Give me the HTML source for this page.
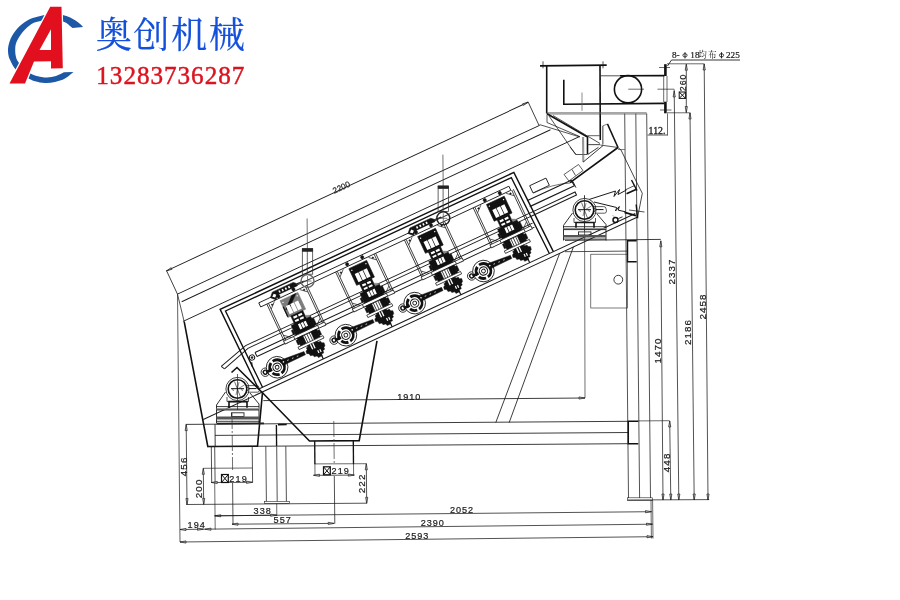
<!DOCTYPE html>
<html><head><meta charset="utf-8"><title>drawing</title>
<style>html,body{margin:0;padding:0;background:#fff;}svg{display:block}</style></head>
<body><svg style="will-change:transform" width="900" height="600" viewBox="0 0 900 600" fill="none" stroke-linecap="butt" font-family="'Liberation Sans', sans-serif">
<rect width="900" height="600" fill="#fff"/>
<g id="logo">
<path d="M83.2 27C82.4 26.2 79.9 23.6 78 22.2C76.1 20.8 74.2 19.6 72 18.5C69.8 17.4 66.8 16.2 64.5 15.6C62.2 14.9 60.1 14.8 58 14.6C55.9 14.4 54 14.3 52 14.3C50 14.3 47.9 14.5 46 14.8C44.1 15.1 43.2 15.2 40.5 15.9C37.8 16.6 33.5 17.3 30 19C26.5 20.7 22.5 23.4 19.5 26.2C16.5 29.1 13.9 32.6 12 36C10.1 39.4 8.9 43.3 8.3 46.5C7.7 49.7 8 52.4 8.4 55C8.8 57.6 10 59.8 11 62C12 64.2 13 66.1 14.5 68C16 69.9 17.7 71.8 20 73.5C22.3 75.2 26 77.2 28.5 78.5C31 79.8 32.2 80.5 35 81.2C37.8 82 41.7 82.9 45 83C48.3 83.1 51.7 82.8 55 82C58.3 81.2 61.9 80.2 65 78.5C68.1 76.8 72.1 73.1 73.5 72L64 72.3C62.7 72.9 58.8 75.1 56 76C53.2 76.9 49.7 77.4 47 77.5C44.3 77.6 42.6 77.4 40 76.8C37.4 76.2 34.2 75.3 31.5 74C28.8 72.7 26.2 71.1 24 69C21.8 66.9 19.3 63.5 18 61.5C16.7 59.5 16.5 59 16 57C15.5 55 15.1 52 15.2 49.5C15.3 47 15.3 44.9 16.5 42C17.7 39.1 20 35.2 22.5 32.2C25 29.2 28.5 25.9 31.5 24C34.5 22.1 38.1 21.7 40.5 21C42.9 20.3 44.1 20.2 46 20C47.9 19.8 50 19.6 52 19.6C54 19.6 55.8 19.5 58 20C60.2 20.5 63.1 21.2 65.5 22.5C67.9 23.8 71.3 27.1 72.5 28Z" fill="#1c58a6"/>
<path d="M9.5 83.5L50.25 6.75L61.5 6.75L62.8 68.3L51 68.6L51 61.3L34 61.4L25 83.5Z" fill="#fff" stroke="#fff" stroke-width="2.6" stroke-linejoin="miter"/>
<path d="M9.5 83.5L50.25 6.75L61.5 6.75L62.8 68.3L51 68.6L51 61.3L34 61.4L25 83.5Z M39.5 50L51 50L51 29.25Z" fill="#e2101e" fill-rule="evenodd"/>
</g>
<text x="95.7" y="47.5" font-size="36.2" letter-spacing="1.5" font-family="'Liberation Serif', 'Noto Serif CJK SC', serif" fill="#1450dc" stroke="#1450dc" stroke-width="0.18">奥创机械</text>
<text x="96.3" y="83.6" font-size="25.2" font-family="'Liberation Serif', serif" fill="#dc1420" letter-spacing="0.95" stroke="#dc1420" stroke-width="0.45">13283736287</text>
<g transform="translate(177.5 294.2) rotate(-25)">
<path d="M0 -25.8L398.8 -25.8" stroke="#1a1a1a" stroke-width="0.9" />
<path d="M0 -26.3L0 0" stroke="#1a1a1a" stroke-width="0.75" />
<path d="M399 -26.3L399 0" stroke="#1a1a1a" stroke-width="0.75" />
<path d="M0 -25.8L5.5 -26.7L5.5 -24.9Z" fill="#b0b0b0" stroke="#1a1a1a" stroke-width="0.65" stroke-linejoin="round"/>
<path d="M398.8 -25.8L393.3 -24.9L393.3 -26.7Z" fill="#b0b0b0" stroke="#1a1a1a" stroke-width="0.65" stroke-linejoin="round"/>
<text x="184.5" y="-24.8" font-size="8.2" textLength="18.3" lengthAdjust="spacingAndGlyphs" fill="#1a1a1a" stroke="#1a1a1a" stroke-width="0.18" font-family="'Liberation Sans', sans-serif">2200</text>
<path d="M0 0L399.5 0" stroke="#1a1a1a" stroke-width="0.9" />
<path d="M0.6 8.6L407.5 8.6" stroke="#1a1a1a" stroke-width="0.9" />
<path d="M-6.4 27L430.6 27" stroke="#1a1a1a" stroke-width="0.85" />
<path d="M33.4 120.3L32.2 31.8L356.3 31.8L358.6 120.3" stroke="#111" stroke-width="1.45" fill="none" />
<path d="M37.7 120.3L36.4 35.5L351.8 35.5L354.2 120.3" stroke="#111" stroke-width="1.35" fill="none" />
<path d="M33 120.3L449 120.3" stroke="#1a1a1a" stroke-width="0.95" />
<path d="M-29.6 124.5L449 124.5" stroke="#1a1a1a" stroke-width="0.95" />
<rect x="365" y="50.5" width="18" height="8" stroke="#1a1a1a" stroke-width="0.85" fill="none"/>
<rect x="70" y="42.2" width="276" height="4.5" stroke="#1a1a1a" stroke-width="0.85" fill="none"/>
<path d="M88 75.4L351.8 75.4" stroke="#1a1a1a" stroke-width="0.85" />
<path d="M88 78.8L351.8 78.8" stroke="#1a1a1a" stroke-width="0.85" />
<path d="M45.6 85.6L351.8 85.6" stroke="#111" stroke-width="0.9" />
<path d="M45.7 90.1L351.8 90.1" stroke="#1a1a1a" stroke-width="0.95" />
<path d="M45.6 85.6L45.7 90.1" stroke="#1a1a1a" stroke-width="0.95" />
<path d="M356.3 63L405 63L405.5 69.5L356.3 69.5" stroke="#1a1a1a" stroke-width="1.15" fill="none" />
<path d="M351.8 75.4L403.5 75.4L403.5 78.8L351.8 78.8" stroke="#1a1a1a" stroke-width="1.05" fill="none" />
<path d="M88 75.4L40 75.4L9.1 84" stroke="#1a1a1a" stroke-width="0.95" fill="none" />
<path d="M88 78.8L41 78.8L11 87.6" stroke="#1a1a1a" stroke-width="0.95" fill="none" />
<path d="M9.1 84L11 87.6" stroke="#1a1a1a" stroke-width="0.95" />
<circle cx="40.8" cy="88.9" r="2.6" stroke="#111" stroke-width="1.0" fill="none"/>
<circle cx="40.8" cy="88.9" r="0.9" stroke="#111" stroke-width="0.65" fill="#111"/>
<path d="M38.5 93L37 97" stroke="#111" stroke-width="1.2" />
<circle cx="46.6" cy="107.8" r="4.2" stroke="#1a1a1a" stroke-width="0.8" fill="none"/>
<circle cx="46.6" cy="107.8" r="2" stroke="#111" stroke-width="1.4" fill="none"/>
<circle cx="59.4" cy="108.3" r="10.8" stroke="#111" stroke-width="0.8" fill="#fff"/>
<circle cx="59.4" cy="108.3" r="7.4" stroke="#111" stroke-width="2.8" stroke-dasharray="10 2.2 7.5 2 9 2.5" fill="none"/>
<circle cx="59.4" cy="108.3" r="4.2" stroke="#111" stroke-width="1.0" fill="none"/>
<circle cx="59.4" cy="108.3" r="1.9" stroke="#111" stroke-width="0.9" fill="none"/>
<path d="M47.4 108.3L53.9 108.3" stroke="#111" stroke-width="2.8" />
<path d="M63.9 103.1L69.4 103.7L90.4 105.4L90.4 108.9L69.4 109.2L65.9 109.9Z" stroke="#111" stroke-width="0.4" fill="#111" />
<path d="M71.4 106.4L86.4 107.1" stroke="#fff" stroke-width="0.7" stroke-dasharray="1.6 3.6"/>
<circle cx="67.4" cy="106.1" r="0.8" stroke="none" stroke-width="0" fill="#fff"/>
<circle cx="122.5" cy="107.8" r="4.2" stroke="#1a1a1a" stroke-width="0.8" fill="none"/>
<circle cx="122.5" cy="107.8" r="2" stroke="#111" stroke-width="1.4" fill="none"/>
<circle cx="135.3" cy="108.3" r="10.8" stroke="#111" stroke-width="0.8" fill="#fff"/>
<circle cx="135.3" cy="108.3" r="7.4" stroke="#111" stroke-width="2.8" stroke-dasharray="10 2.2 7.5 2 9 2.5" fill="none"/>
<circle cx="135.3" cy="108.3" r="4.2" stroke="#111" stroke-width="1.0" fill="none"/>
<circle cx="135.3" cy="108.3" r="1.9" stroke="#111" stroke-width="0.9" fill="none"/>
<path d="M123.3 108.3L129.8 108.3" stroke="#111" stroke-width="2.8" />
<path d="M139.8 103.1L145.3 103.7L166.3 105.4L166.3 108.9L145.3 109.2L141.8 109.9Z" stroke="#111" stroke-width="0.4" fill="#111" />
<path d="M147.3 106.4L162.3 107.1" stroke="#fff" stroke-width="0.7" stroke-dasharray="1.6 3.6"/>
<circle cx="143.3" cy="106.1" r="0.8" stroke="none" stroke-width="0" fill="#fff"/>
<circle cx="198.4" cy="107.8" r="4.2" stroke="#1a1a1a" stroke-width="0.8" fill="none"/>
<circle cx="198.4" cy="107.8" r="2" stroke="#111" stroke-width="1.4" fill="none"/>
<circle cx="211.2" cy="108.3" r="10.8" stroke="#111" stroke-width="0.8" fill="#fff"/>
<circle cx="211.2" cy="108.3" r="7.4" stroke="#111" stroke-width="2.8" stroke-dasharray="10 2.2 7.5 2 9 2.5" fill="none"/>
<circle cx="211.2" cy="108.3" r="4.2" stroke="#111" stroke-width="1.0" fill="none"/>
<circle cx="211.2" cy="108.3" r="1.9" stroke="#111" stroke-width="0.9" fill="none"/>
<path d="M199.2 108.3L205.7 108.3" stroke="#111" stroke-width="2.8" />
<path d="M215.7 103.1L221.2 103.7L242.2 105.4L242.2 108.9L221.2 109.2L217.7 109.9Z" stroke="#111" stroke-width="0.4" fill="#111" />
<path d="M223.2 106.4L238.2 107.1" stroke="#fff" stroke-width="0.7" stroke-dasharray="1.6 3.6"/>
<circle cx="219.2" cy="106.1" r="0.8" stroke="none" stroke-width="0" fill="#fff"/>
<circle cx="274.3" cy="107.8" r="4.2" stroke="#1a1a1a" stroke-width="0.8" fill="none"/>
<circle cx="274.3" cy="107.8" r="2" stroke="#111" stroke-width="1.4" fill="none"/>
<circle cx="287.1" cy="108.3" r="10.8" stroke="#111" stroke-width="0.8" fill="#fff"/>
<circle cx="287.1" cy="108.3" r="7.4" stroke="#111" stroke-width="2.8" stroke-dasharray="10 2.2 7.5 2 9 2.5" fill="none"/>
<circle cx="287.1" cy="108.3" r="4.2" stroke="#111" stroke-width="1.0" fill="none"/>
<circle cx="287.1" cy="108.3" r="1.9" stroke="#111" stroke-width="0.9" fill="none"/>
<path d="M275.1 108.3L281.6 108.3" stroke="#111" stroke-width="2.8" />
<path d="M291.6 103.1L297.1 103.7L318.1 105.4L318.1 108.9L297.1 109.2L293.6 109.9Z" stroke="#111" stroke-width="0.4" fill="#111" />
<path d="M299.1 106.4L314.1 107.1" stroke="#fff" stroke-width="0.7" stroke-dasharray="1.6 3.6"/>
<circle cx="295.1" cy="106.1" r="0.8" stroke="none" stroke-width="0" fill="#fff"/>
<path d="M76.8 46.8L76.8 91" stroke="#1a1a1a" stroke-width="0.75" />
<path d="M78.6 46.8L78.6 91" stroke="#1a1a1a" stroke-width="0.75" />
<path d="M119.2 46.8L119.2 91" stroke="#1a1a1a" stroke-width="0.75" />
<path d="M121 46.8L121 91" stroke="#1a1a1a" stroke-width="0.75" />
<rect x="76.3" y="87.4" width="45.2" height="3.2" stroke="#1a1a1a" stroke-width="0.75" fill="#fff"/>
<path d="M78.8 53L84.8 47.5" stroke="#1a1a1a" stroke-width="0.65" fill="none" />
<path d="M119 53L112.8 47.5" stroke="#1a1a1a" stroke-width="0.65" fill="none" />
<path d="M78.8 82L84.8 87.4" stroke="#1a1a1a" stroke-width="0.65" fill="none" />
<path d="M119 82L112.8 87.4" stroke="#1a1a1a" stroke-width="0.65" fill="none" />
<circle cx="81.3" cy="49.5" r="0.7" stroke="#111" stroke-width="0.65" fill="#111"/>
<circle cx="116.6" cy="49.5" r="0.7" stroke="#111" stroke-width="0.65" fill="#111"/>
<circle cx="90.5" cy="44.6" r="1.7" stroke="#111" stroke-width="0.4" fill="#111"/>
<circle cx="107.1" cy="44.6" r="1.7" stroke="#111" stroke-width="0.4" fill="#111"/>
<rect x="90.2" y="49.3" width="19.6" height="18.4" stroke="#7c7c7c" stroke-width="0.6" fill="#7c7c7c"/>
<path d="M102.8 49.3L107.8 49.3L95.8 60L91.3 60Z" stroke="#111" stroke-width="0.3" fill="#111" />
<path d="M90.5 56L90.5 67" stroke="#111" stroke-width="1.2" />
<rect x="93.2" y="56.6" width="4" height="9" stroke="none" stroke-width="0" fill="#fff"/>
<rect x="97.9" y="56.6" width="4" height="9" stroke="none" stroke-width="0" fill="#fff"/>
<rect x="102.6" y="56.6" width="4" height="9" stroke="none" stroke-width="0" fill="#fff"/>
<circle cx="92.2" cy="52" r="0.7" stroke="none" stroke-width="0" fill="#fff"/>
<circle cx="107.8" cy="52" r="0.7" stroke="none" stroke-width="0" fill="#fff"/>
<rect x="93.4" y="67.7" width="13.2" height="9" stroke="#111" stroke-width="0.5" fill="#111"/>
<rect x="95.2" y="69.2" width="4" height="2.2" stroke="none" stroke-width="0" fill="#fff"/>
<rect x="100.6" y="69.2" width="4" height="2.2" stroke="none" stroke-width="0" fill="#fff"/>
<rect x="95.2" y="73.2" width="4" height="2" stroke="none" stroke-width="0" fill="#fff"/>
<rect x="100.6" y="73.2" width="4" height="2" stroke="none" stroke-width="0" fill="#fff"/>
<path d="M106.8 73L110.8 75L112.3 84L107.8 84Z" stroke="#777" stroke-width="0.3" fill="#888" />
<rect x="89.8" y="76.5" width="21.5" height="11" stroke="#111" stroke-width="0.5" fill="#111"/>
<rect x="96.4" y="78.2" width="2.4" height="5.6" stroke="none" stroke-width="0" fill="#fff"/>
<rect x="99.5" y="78.2" width="2.4" height="5.6" stroke="none" stroke-width="0" fill="#fff"/>
<rect x="102.6" y="78.2" width="2.4" height="5.6" stroke="none" stroke-width="0" fill="#fff"/>
<rect x="87.8" y="81" width="2" height="4.5" stroke="#111" stroke-width="0.4" fill="#111"/>
<rect x="111.1" y="79" width="2.2" height="7" stroke="#111" stroke-width="0.4" fill="#111"/>
<rect x="87.3" y="87.4" width="26.5" height="3" stroke="#111" stroke-width="0.7" fill="#fff"/>
<rect x="89.8" y="90.4" width="6.2" height="8.6" stroke="#111" stroke-width="0.5" fill="#111"/>
<rect x="104.8" y="90.4" width="6.5" height="8.6" stroke="#111" stroke-width="0.5" fill="#111"/>
<path d="M97.8 90.4L97.8 99" stroke="#111" stroke-width="0.7" />
<path d="M100.4 90.4L100.4 99" stroke="#111" stroke-width="0.7" />
<path d="M103 90.4L103 99" stroke="#111" stroke-width="0.7" />
<rect x="87.8" y="92" width="2" height="5" stroke="#111" stroke-width="0.4" fill="#111"/>
<rect x="111.1" y="92" width="2.5" height="5.5" stroke="#111" stroke-width="0.4" fill="#111"/>
<rect x="86.8" y="99" width="27.5" height="2.6" stroke="#111" stroke-width="0.7" fill="#fff"/>
<path d="M95.8 101.6L106.8 101.6L107.7 103L109.8 103L110.2 105L112.3 106L111.9 109L110.2 110L110.2 112L108.1 112.5L107.7 115L105.5 115L105.1 117L100.9 117L100.5 115L97.5 114.5L97 112.5L94.5 112L94.1 109.5L92 108.5L92.4 106L94.1 105L94.1 103L95.8 102.8Z" stroke="#111" stroke-width="0.4" fill="#111" />
<rect x="98.6" y="101.6" width="1.3" height="5.5" stroke="none" stroke-width="0" fill="#fff"/>
<rect x="101.2" y="101.6" width="1.3" height="5.5" stroke="none" stroke-width="0" fill="#fff"/>
<rect x="102.8" y="110" width="1.2" height="3" stroke="none" stroke-width="0" fill="#fff"/>
<rect x="105.2" y="110" width="1.2" height="3" stroke="none" stroke-width="0" fill="#fff"/>
<path d="M104.8 115.5L104.8 120.3" stroke="#111" stroke-width="1.2" />
<path d="M82.8 42.4L86.8 38.2L109.8 38.2L112.3 40.5L112.3 43L90.8 43L86.8 46.6Z" fill="#151515" stroke="#111" stroke-width="0.5"/>
<path d="M84.8 42.3L87.4 40.2L89.3 42.3L87.2 44.2Z" fill="#fff" stroke="none"/>
<rect x="92.8" y="39.6" width="1.6" height="2.2" stroke="none" stroke-width="0" fill="#fff"/>
<rect x="96.3" y="39.6" width="1.6" height="2.2" stroke="none" stroke-width="0" fill="#fff"/>
<rect x="99.8" y="39.6" width="1.6" height="2.2" stroke="none" stroke-width="0" fill="#fff"/>
<rect x="103.3" y="39.6" width="1.6" height="2.2" stroke="none" stroke-width="0" fill="#fff"/>
<path d="M112.3 41L119.8 41.6" stroke="#222" stroke-width="1.2" />
<path d="M152.7 46.8L152.7 91" stroke="#1a1a1a" stroke-width="0.75" />
<path d="M154.5 46.8L154.5 91" stroke="#1a1a1a" stroke-width="0.75" />
<path d="M195.1 46.8L195.1 91" stroke="#1a1a1a" stroke-width="0.75" />
<path d="M196.9 46.8L196.9 91" stroke="#1a1a1a" stroke-width="0.75" />
<rect x="152.2" y="87.4" width="45.2" height="3.2" stroke="#1a1a1a" stroke-width="0.75" fill="#fff"/>
<path d="M154.7 53L160.7 47.5" stroke="#1a1a1a" stroke-width="0.65" fill="none" />
<path d="M194.9 53L188.7 47.5" stroke="#1a1a1a" stroke-width="0.65" fill="none" />
<path d="M154.7 82L160.7 87.4" stroke="#1a1a1a" stroke-width="0.65" fill="none" />
<path d="M194.9 82L188.7 87.4" stroke="#1a1a1a" stroke-width="0.65" fill="none" />
<circle cx="157.2" cy="49.5" r="0.7" stroke="#111" stroke-width="0.65" fill="#111"/>
<circle cx="192.5" cy="49.5" r="0.7" stroke="#111" stroke-width="0.65" fill="#111"/>
<circle cx="166.4" cy="44.6" r="1.7" stroke="#111" stroke-width="0.4" fill="#111"/>
<circle cx="183" cy="44.6" r="1.7" stroke="#111" stroke-width="0.4" fill="#111"/>
<rect x="166.1" y="49.3" width="19.6" height="18.4" stroke="#111" stroke-width="0.6" fill="#111"/>
<rect x="169.1" y="56.6" width="4" height="9" stroke="none" stroke-width="0" fill="#fff"/>
<rect x="173.8" y="56.6" width="4" height="9" stroke="none" stroke-width="0" fill="#fff"/>
<rect x="178.5" y="56.6" width="4" height="9" stroke="none" stroke-width="0" fill="#fff"/>
<circle cx="168.1" cy="52" r="0.7" stroke="none" stroke-width="0" fill="#fff"/>
<circle cx="183.7" cy="52" r="0.7" stroke="none" stroke-width="0" fill="#fff"/>
<rect x="169.3" y="67.7" width="13.2" height="9" stroke="#111" stroke-width="0.5" fill="#111"/>
<rect x="171.1" y="69.2" width="4" height="2.2" stroke="none" stroke-width="0" fill="#fff"/>
<rect x="176.5" y="69.2" width="4" height="2.2" stroke="none" stroke-width="0" fill="#fff"/>
<rect x="171.1" y="73.2" width="4" height="2" stroke="none" stroke-width="0" fill="#fff"/>
<rect x="176.5" y="73.2" width="4" height="2" stroke="none" stroke-width="0" fill="#fff"/>
<path d="M182.7 73L186.7 75L188.2 84L183.7 84Z" stroke="#777" stroke-width="0.3" fill="#888" />
<rect x="165.7" y="76.5" width="21.5" height="11" stroke="#111" stroke-width="0.5" fill="#111"/>
<rect x="172.3" y="78.2" width="2.4" height="5.6" stroke="none" stroke-width="0" fill="#fff"/>
<rect x="175.4" y="78.2" width="2.4" height="5.6" stroke="none" stroke-width="0" fill="#fff"/>
<rect x="178.5" y="78.2" width="2.4" height="5.6" stroke="none" stroke-width="0" fill="#fff"/>
<rect x="163.7" y="81" width="2" height="4.5" stroke="#111" stroke-width="0.4" fill="#111"/>
<rect x="187" y="79" width="2.2" height="7" stroke="#111" stroke-width="0.4" fill="#111"/>
<rect x="163.2" y="87.4" width="26.5" height="3" stroke="#111" stroke-width="0.7" fill="#fff"/>
<rect x="165.7" y="90.4" width="6.2" height="8.6" stroke="#111" stroke-width="0.5" fill="#111"/>
<rect x="180.7" y="90.4" width="6.5" height="8.6" stroke="#111" stroke-width="0.5" fill="#111"/>
<path d="M173.7 90.4L173.7 99" stroke="#111" stroke-width="0.7" />
<path d="M176.3 90.4L176.3 99" stroke="#111" stroke-width="0.7" />
<path d="M178.9 90.4L178.9 99" stroke="#111" stroke-width="0.7" />
<rect x="163.7" y="92" width="2" height="5" stroke="#111" stroke-width="0.4" fill="#111"/>
<rect x="187" y="92" width="2.5" height="5.5" stroke="#111" stroke-width="0.4" fill="#111"/>
<rect x="162.7" y="99" width="27.5" height="2.6" stroke="#111" stroke-width="0.7" fill="#fff"/>
<path d="M171.7 101.6L182.7 101.6L183.6 103L185.7 103L186.1 105L188.2 106L187.8 109L186.1 110L186.1 112L184 112.5L183.6 115L181.4 115L181 117L176.8 117L176.3 115L173.4 114.5L172.9 112.5L170.4 112L170 109.5L167.8 108.5L168.3 106L170 105L170 103L171.7 102.8Z" stroke="#111" stroke-width="0.4" fill="#111" />
<rect x="174.5" y="101.6" width="1.3" height="5.5" stroke="none" stroke-width="0" fill="#fff"/>
<rect x="177.1" y="101.6" width="1.3" height="5.5" stroke="none" stroke-width="0" fill="#fff"/>
<rect x="178.7" y="110" width="1.2" height="3" stroke="none" stroke-width="0" fill="#fff"/>
<rect x="181.1" y="110" width="1.2" height="3" stroke="none" stroke-width="0" fill="#fff"/>
<path d="M180.7 115.5L180.7 120.3" stroke="#111" stroke-width="1.2" />
<path d="M228.6 46.8L228.6 91" stroke="#1a1a1a" stroke-width="0.75" />
<path d="M230.4 46.8L230.4 91" stroke="#1a1a1a" stroke-width="0.75" />
<path d="M271 46.8L271 91" stroke="#1a1a1a" stroke-width="0.75" />
<path d="M272.8 46.8L272.8 91" stroke="#1a1a1a" stroke-width="0.75" />
<rect x="228.1" y="87.4" width="45.2" height="3.2" stroke="#1a1a1a" stroke-width="0.75" fill="#fff"/>
<path d="M230.6 53L236.6 47.5" stroke="#1a1a1a" stroke-width="0.65" fill="none" />
<path d="M270.8 53L264.6 47.5" stroke="#1a1a1a" stroke-width="0.65" fill="none" />
<path d="M230.6 82L236.6 87.4" stroke="#1a1a1a" stroke-width="0.65" fill="none" />
<path d="M270.8 82L264.6 87.4" stroke="#1a1a1a" stroke-width="0.65" fill="none" />
<circle cx="233.1" cy="49.5" r="0.7" stroke="#111" stroke-width="0.65" fill="#111"/>
<circle cx="268.4" cy="49.5" r="0.7" stroke="#111" stroke-width="0.65" fill="#111"/>
<circle cx="242.3" cy="44.6" r="1.7" stroke="#111" stroke-width="0.4" fill="#111"/>
<circle cx="258.9" cy="44.6" r="1.7" stroke="#111" stroke-width="0.4" fill="#111"/>
<rect x="242" y="49.3" width="19.6" height="18.4" stroke="#111" stroke-width="0.6" fill="#111"/>
<rect x="245" y="56.6" width="4" height="9" stroke="none" stroke-width="0" fill="#fff"/>
<rect x="249.7" y="56.6" width="4" height="9" stroke="none" stroke-width="0" fill="#fff"/>
<rect x="254.4" y="56.6" width="4" height="9" stroke="none" stroke-width="0" fill="#fff"/>
<circle cx="244" cy="52" r="0.7" stroke="none" stroke-width="0" fill="#fff"/>
<circle cx="259.6" cy="52" r="0.7" stroke="none" stroke-width="0" fill="#fff"/>
<rect x="245.2" y="67.7" width="13.2" height="9" stroke="#111" stroke-width="0.5" fill="#111"/>
<rect x="247" y="69.2" width="4" height="2.2" stroke="none" stroke-width="0" fill="#fff"/>
<rect x="252.4" y="69.2" width="4" height="2.2" stroke="none" stroke-width="0" fill="#fff"/>
<rect x="247" y="73.2" width="4" height="2" stroke="none" stroke-width="0" fill="#fff"/>
<rect x="252.4" y="73.2" width="4" height="2" stroke="none" stroke-width="0" fill="#fff"/>
<path d="M258.6 73L262.6 75L264.1 84L259.6 84Z" stroke="#777" stroke-width="0.3" fill="#888" />
<rect x="241.6" y="76.5" width="21.5" height="11" stroke="#111" stroke-width="0.5" fill="#111"/>
<rect x="248.2" y="78.2" width="2.4" height="5.6" stroke="none" stroke-width="0" fill="#fff"/>
<rect x="251.3" y="78.2" width="2.4" height="5.6" stroke="none" stroke-width="0" fill="#fff"/>
<rect x="254.4" y="78.2" width="2.4" height="5.6" stroke="none" stroke-width="0" fill="#fff"/>
<rect x="239.6" y="81" width="2" height="4.5" stroke="#111" stroke-width="0.4" fill="#111"/>
<rect x="262.9" y="79" width="2.2" height="7" stroke="#111" stroke-width="0.4" fill="#111"/>
<rect x="239.1" y="87.4" width="26.5" height="3" stroke="#111" stroke-width="0.7" fill="#fff"/>
<rect x="241.6" y="90.4" width="6.2" height="8.6" stroke="#111" stroke-width="0.5" fill="#111"/>
<rect x="256.6" y="90.4" width="6.5" height="8.6" stroke="#111" stroke-width="0.5" fill="#111"/>
<path d="M249.6 90.4L249.6 99" stroke="#111" stroke-width="0.7" />
<path d="M252.2 90.4L252.2 99" stroke="#111" stroke-width="0.7" />
<path d="M254.8 90.4L254.8 99" stroke="#111" stroke-width="0.7" />
<rect x="239.6" y="92" width="2" height="5" stroke="#111" stroke-width="0.4" fill="#111"/>
<rect x="262.9" y="92" width="2.5" height="5.5" stroke="#111" stroke-width="0.4" fill="#111"/>
<rect x="238.6" y="99" width="27.5" height="2.6" stroke="#111" stroke-width="0.7" fill="#fff"/>
<path d="M247.6 101.6L258.6 101.6L259.5 103L261.6 103L262 105L264.2 106L263.7 109L262 110L262 112L259.9 112.5L259.5 115L257.4 115L256.9 117L252.7 117L252.3 115L249.3 114.5L248.9 112.5L246.3 112L245.9 109.5L243.8 108.5L244.2 106L245.9 105L245.9 103L247.6 102.8Z" stroke="#111" stroke-width="0.4" fill="#111" />
<rect x="250.4" y="101.6" width="1.3" height="5.5" stroke="none" stroke-width="0" fill="#fff"/>
<rect x="253" y="101.6" width="1.3" height="5.5" stroke="none" stroke-width="0" fill="#fff"/>
<rect x="254.6" y="110" width="1.2" height="3" stroke="none" stroke-width="0" fill="#fff"/>
<rect x="257" y="110" width="1.2" height="3" stroke="none" stroke-width="0" fill="#fff"/>
<path d="M256.6 115.5L256.6 120.3" stroke="#111" stroke-width="1.2" />
<path d="M234.6 42.4L238.6 38.2L261.6 38.2L264.1 40.5L264.1 43L242.6 43L238.6 46.6Z" fill="#151515" stroke="#111" stroke-width="0.5"/>
<path d="M236.6 42.3L239.2 40.2L241.1 42.3L239 44.2Z" fill="#fff" stroke="none"/>
<rect x="244.6" y="39.6" width="1.6" height="2.2" stroke="none" stroke-width="0" fill="#fff"/>
<rect x="248.1" y="39.6" width="1.6" height="2.2" stroke="none" stroke-width="0" fill="#fff"/>
<rect x="251.6" y="39.6" width="1.6" height="2.2" stroke="none" stroke-width="0" fill="#fff"/>
<rect x="255.1" y="39.6" width="1.6" height="2.2" stroke="none" stroke-width="0" fill="#fff"/>
<path d="M264.1 41L271.6 41.6" stroke="#222" stroke-width="1.2" />
<path d="M304.5 46.8L304.5 91" stroke="#1a1a1a" stroke-width="0.75" />
<path d="M306.3 46.8L306.3 91" stroke="#1a1a1a" stroke-width="0.75" />
<path d="M346.9 46.8L346.9 91" stroke="#1a1a1a" stroke-width="0.75" />
<path d="M348.7 46.8L348.7 91" stroke="#1a1a1a" stroke-width="0.75" />
<rect x="304" y="87.4" width="45.2" height="3.2" stroke="#1a1a1a" stroke-width="0.75" fill="#fff"/>
<path d="M306.5 53L312.5 47.5" stroke="#1a1a1a" stroke-width="0.65" fill="none" />
<path d="M346.7 53L340.5 47.5" stroke="#1a1a1a" stroke-width="0.65" fill="none" />
<path d="M306.5 82L312.5 87.4" stroke="#1a1a1a" stroke-width="0.65" fill="none" />
<path d="M346.7 82L340.5 87.4" stroke="#1a1a1a" stroke-width="0.65" fill="none" />
<circle cx="309" cy="49.5" r="0.7" stroke="#111" stroke-width="0.65" fill="#111"/>
<circle cx="344.3" cy="49.5" r="0.7" stroke="#111" stroke-width="0.65" fill="#111"/>
<circle cx="318.2" cy="44.6" r="1.7" stroke="#111" stroke-width="0.4" fill="#111"/>
<circle cx="334.8" cy="44.6" r="1.7" stroke="#111" stroke-width="0.4" fill="#111"/>
<rect x="317.9" y="49.3" width="19.6" height="18.4" stroke="#111" stroke-width="0.6" fill="#111"/>
<rect x="320.9" y="56.6" width="4" height="9" stroke="none" stroke-width="0" fill="#fff"/>
<rect x="325.6" y="56.6" width="4" height="9" stroke="none" stroke-width="0" fill="#fff"/>
<rect x="330.3" y="56.6" width="4" height="9" stroke="none" stroke-width="0" fill="#fff"/>
<circle cx="319.9" cy="52" r="0.7" stroke="none" stroke-width="0" fill="#fff"/>
<circle cx="335.5" cy="52" r="0.7" stroke="none" stroke-width="0" fill="#fff"/>
<rect x="321.1" y="67.7" width="13.2" height="9" stroke="#111" stroke-width="0.5" fill="#111"/>
<rect x="322.9" y="69.2" width="4" height="2.2" stroke="none" stroke-width="0" fill="#fff"/>
<rect x="328.3" y="69.2" width="4" height="2.2" stroke="none" stroke-width="0" fill="#fff"/>
<rect x="322.9" y="73.2" width="4" height="2" stroke="none" stroke-width="0" fill="#fff"/>
<rect x="328.3" y="73.2" width="4" height="2" stroke="none" stroke-width="0" fill="#fff"/>
<path d="M334.5 73L338.5 75L340 84L335.5 84Z" stroke="#777" stroke-width="0.3" fill="#888" />
<rect x="317.5" y="76.5" width="21.5" height="11" stroke="#111" stroke-width="0.5" fill="#111"/>
<rect x="324.1" y="78.2" width="2.4" height="5.6" stroke="none" stroke-width="0" fill="#fff"/>
<rect x="327.2" y="78.2" width="2.4" height="5.6" stroke="none" stroke-width="0" fill="#fff"/>
<rect x="330.3" y="78.2" width="2.4" height="5.6" stroke="none" stroke-width="0" fill="#fff"/>
<rect x="315.5" y="81" width="2" height="4.5" stroke="#111" stroke-width="0.4" fill="#111"/>
<rect x="338.8" y="79" width="2.2" height="7" stroke="#111" stroke-width="0.4" fill="#111"/>
<rect x="315" y="87.4" width="26.5" height="3" stroke="#111" stroke-width="0.7" fill="#fff"/>
<rect x="317.5" y="90.4" width="6.2" height="8.6" stroke="#111" stroke-width="0.5" fill="#111"/>
<rect x="332.5" y="90.4" width="6.5" height="8.6" stroke="#111" stroke-width="0.5" fill="#111"/>
<path d="M325.5 90.4L325.5 99" stroke="#111" stroke-width="0.7" />
<path d="M328.1 90.4L328.1 99" stroke="#111" stroke-width="0.7" />
<path d="M330.7 90.4L330.7 99" stroke="#111" stroke-width="0.7" />
<rect x="315.5" y="92" width="2" height="5" stroke="#111" stroke-width="0.4" fill="#111"/>
<rect x="338.8" y="92" width="2.5" height="5.5" stroke="#111" stroke-width="0.4" fill="#111"/>
<rect x="314.5" y="99" width="27.5" height="2.6" stroke="#111" stroke-width="0.7" fill="#fff"/>
<path d="M323.5 101.6L334.5 101.6L335.4 103L337.5 103L337.9 105L340.1 106L339.6 109L337.9 110L337.9 112L335.8 112.5L335.4 115L333.2 115L332.8 117L328.6 117L328.1 115L325.2 114.5L324.8 112.5L322.2 112L321.8 109.5L319.6 108.5L320.1 106L321.8 105L321.8 103L323.5 102.8Z" stroke="#111" stroke-width="0.4" fill="#111" />
<rect x="326.3" y="101.6" width="1.3" height="5.5" stroke="none" stroke-width="0" fill="#fff"/>
<rect x="328.9" y="101.6" width="1.3" height="5.5" stroke="none" stroke-width="0" fill="#fff"/>
<rect x="330.5" y="110" width="1.2" height="3" stroke="none" stroke-width="0" fill="#fff"/>
<rect x="332.9" y="110" width="1.2" height="3" stroke="none" stroke-width="0" fill="#fff"/>
<path d="M332.5 115.5L332.5 120.3" stroke="#111" stroke-width="1.2" />
</g>
<path d="M307.1 218.5L307.4 249" stroke="#444" stroke-width="0.75" />
<rect x="302.3" y="248.7" width="10.4" height="25.5" stroke="#333" stroke-width="0.75" fill="none"/>
<path d="M307.3 251L307.3 274" stroke="#333" stroke-width="0.75" />
<rect x="302.3" y="248.7" width="10.4" height="2.6" stroke="#222" stroke-width="0.65" fill="#222"/>
<circle cx="307.5" cy="281" r="6.5" stroke="#666" stroke-width="1.4" fill="none"/>
<path d="M303.5 281L311.5 281" stroke="#555" stroke-width="0.75" />
<path d="M307.5 276L307.5 286" stroke="#555" stroke-width="0.75" />
<path d="M442.9 154.7L443.2 186.3" stroke="#444" stroke-width="0.75" />
<rect x="438.1" y="186" width="10.4" height="25.5" stroke="#333" stroke-width="0.75" fill="none"/>
<path d="M443.1 188.3L443.1 211.3" stroke="#333" stroke-width="0.75" />
<rect x="438.1" y="186" width="10.4" height="2.6" stroke="#222" stroke-width="0.65" fill="#222"/>
<circle cx="443.3" cy="218.3" r="6.5" stroke="#222" stroke-width="1.4" fill="none"/>
<path d="M439.3 218.3L447.3 218.3" stroke="#555" stroke-width="0.75" />
<path d="M443.3 213.3L443.3 223.3" stroke="#555" stroke-width="0.75" />
<path d="M177.5 294.2L184.2 321.7" stroke="#1a1a1a" stroke-width="0.75" />
<path d="M184.2 321.7L207.8 446.5L257.5 446.3L262.5 392.5" stroke="#111" stroke-width="1.6" fill="none" />
<path d="M177.5 294.2L180 542" stroke="#1a1a1a" stroke-width="0.7" />
<path d="M231.5 372.5L237 367.5L263 393.2L309.5 441L359.2 440.6L377 340.8" stroke="#111" stroke-width="1.6" fill="none" />
<path d="M211.3 446.5L211.7 482.5" stroke="#1a1a1a" stroke-width="0.75" />
<path d="M214.7 446.5L215.1 482.5" stroke="#1a1a1a" stroke-width="0.75" />
<path d="M252.2 446.5L252.6 482.5" stroke="#1a1a1a" stroke-width="0.75" />
<path d="M314.7 441L314.9 464.2" stroke="#111" stroke-width="1.35" />
<path d="M353.3 440.8L353.5 464.2" stroke="#111" stroke-width="1.35" />
<path d="M314.9 464.2L315 475.3" stroke="#1a1a1a" stroke-width="0.65" />
<path d="M353.5 464.2L353.6 475.3" stroke="#1a1a1a" stroke-width="0.65" />
<path d="M185.8 424.4L628.3 421.3" stroke="#1a1a1a" stroke-width="0.85" />
<path d="M215 435.4L628.3 432.5" stroke="#1a1a1a" stroke-width="0.85" />
<path d="M207 446.6L628.3 443.7" stroke="#1a1a1a" stroke-width="0.85" />
<path d="M638.3 421.3L628.3 421.3L628.3 443.7L638.3 443.7" stroke="#111" stroke-width="1.45" fill="none" />
<path d="M636.7 240.8L627.5 240.8L627.5 261.7L636.7 261.7" stroke="#111" stroke-width="1.45" fill="none" />
<path d="M624.7 113.5L628.5 498" stroke="#1a1a1a" stroke-width="0.75" />
<path d="M635.8 113.5L639.6 498" stroke="#1a1a1a" stroke-width="0.75" />
<path d="M646.7 113.5L650.5 498" stroke="#1a1a1a" stroke-width="0.75" />
<rect x="627.5" y="497.8" width="25" height="2.5" stroke="#222" stroke-width="0.6"/>
<path d="M265.8 446.3L266.4 501.3" stroke="#1a1a1a" stroke-width="0.75" />
<path d="M276.7 446.3L277.2 501.3" stroke="#1a1a1a" stroke-width="0.75" />
<path d="M285.8 446.3L286.4 501.3" stroke="#1a1a1a" stroke-width="0.75" />
<rect x="264.6" y="501.3" width="25" height="2.2" stroke="#222" stroke-width="0.6"/>
<path d="M276.4 425L276.6 446" stroke="#111" stroke-width="1.35" />
<path d="M215 424L215.2 446.5" stroke="#1a1a1a" stroke-width="0.85" />
<path d="M216.5 423.6L264 423.3" stroke="#222" stroke-width="1.8" />
<path d="M278 424.6L286.7 424.5" stroke="#111" stroke-width="1.7" />
<path d="M559.6 253.4L495.8 422.5" stroke="#1a1a1a" stroke-width="0.85" />
<path d="M573.4 246.9L509.2 422.5" stroke="#1a1a1a" stroke-width="0.85" />
<path d="M565 240.4L660.8 239.4" stroke="#1a1a1a" stroke-width="0.85" />
<path d="M565 251.7L627 251.1" stroke="#1a1a1a" stroke-width="0.75" />
<rect x="590.8" y="254.2" width="36.7" height="53.8" stroke="#222" stroke-width="0.6"/>
<circle cx="618.3" cy="279.7" r="4.4" stroke="#1a1a1a" stroke-width="0.85" fill="none"/>
<path d="M584.5 196L585 398" stroke="#333" stroke-width="0.7" />
<path d="M540 65.8L606.7 65.2" stroke="#111" stroke-width="1.7" />
<path d="M543 61.3L543 68.3" stroke="#1a1a1a" stroke-width="0.75" />
<path d="M603 61.3L603 68.3" stroke="#1a1a1a" stroke-width="0.75" />
<path d="M546.7 65.8L546.7 113.5" stroke="#111" stroke-width="1.6" />
<path d="M600 65.5L600.3 140" stroke="#111" stroke-width="1.6" />
<path d="M546.7 112.8L646.7 112.8" stroke="#555" stroke-width="0.75" />
<path d="M546.7 114L646.7 114" stroke="#555" stroke-width="0.75" />
<path d="M563.8 79.7L563.8 104.2L664.5 103.4" stroke="#111" stroke-width="1.6" fill="none" />
<path d="M582 92.5L582 110.8" stroke="#666" stroke-width="0.75" />
<path d="M600 75.8L620 75.8" stroke="#1a1a1a" stroke-width="0.75" />
<path d="M620 75.8L664.5 75.6" stroke="#111" stroke-width="1.6" />
<circle cx="628" cy="89.2" r="13.6" stroke="#111" stroke-width="1.6" fill="none"/>
<path d="M628.3 89.2L644 89.2" stroke="#1a1a1a" stroke-width="0.65" />
<path d="M657.5 89.2L674.2 89.2" stroke="#1a1a1a" stroke-width="0.65" />
<path d="M665.4 64.2L665.4 76" stroke="#111" stroke-width="2.6" />
<path d="M665.4 101.7L665.4 113.3" stroke="#111" stroke-width="2.6" />
<path d="M663.7 76L663.7 102" stroke="#1a1a1a" stroke-width="0.65" />
<path d="M667 76L667 102" stroke="#1a1a1a" stroke-width="0.65" />
<path d="M659 67.5L670 67.5" stroke="#1a1a1a" stroke-width="0.65" />
<path d="M660 110L671.5 110" stroke="#1a1a1a" stroke-width="0.65" />
<path d="M704.2 64L708 500" stroke="#1a1a1a" stroke-width="0.75" />
<path d="M704.2 64L705.3 70L703.1 70Z" fill="#b0b0b0" stroke="#1a1a1a" stroke-width="0.65" stroke-linejoin="round"/>
<path d="M708 500L706.9 494L709.1 494Z" fill="#b0b0b0" stroke="#1a1a1a" stroke-width="0.65" stroke-linejoin="round"/>
<path d="M690 113L694.2 500" stroke="#1a1a1a" stroke-width="0.75" />
<path d="M690 113L691.1 119L688.9 119Z" fill="#b0b0b0" stroke="#1a1a1a" stroke-width="0.65" stroke-linejoin="round"/>
<path d="M694.2 500L693.1 494L695.3 494Z" fill="#b0b0b0" stroke="#1a1a1a" stroke-width="0.65" stroke-linejoin="round"/>
<path d="M674.2 89.5L678.8 500" stroke="#1a1a1a" stroke-width="0.75" />
<path d="M674.2 91L675.3 97L673.1 97Z" fill="#b0b0b0" stroke="#1a1a1a" stroke-width="0.65" stroke-linejoin="round"/>
<path d="M678.8 500L677.7 494L679.9 494Z" fill="#b0b0b0" stroke="#1a1a1a" stroke-width="0.65" stroke-linejoin="round"/>
<path d="M669.7 421L670.8 500" stroke="#1a1a1a" stroke-width="0.75" />
<path d="M669.7 421L670.8 427L668.6 427Z" fill="#b0b0b0" stroke="#1a1a1a" stroke-width="0.65" stroke-linejoin="round"/>
<path d="M670.8 500L669.7 494L671.9 494Z" fill="#b0b0b0" stroke="#1a1a1a" stroke-width="0.65" stroke-linejoin="round"/>
<path d="M660.8 240.8L663 500" stroke="#1a1a1a" stroke-width="0.75" />
<path d="M660.8 240.8L661.9 246.8L659.7 246.8Z" fill="#b0b0b0" stroke="#1a1a1a" stroke-width="0.65" stroke-linejoin="round"/>
<path d="M663 500L661.9 494L664.1 494Z" fill="#b0b0b0" stroke="#1a1a1a" stroke-width="0.65" stroke-linejoin="round"/>
<path d="M627.5 500L709.2 499.6" stroke="#1a1a1a" stroke-width="0.75" />
<path d="M667 63.8L704.5 63.8" stroke="#1a1a1a" stroke-width="0.65" />
<path d="M667 112.8L690.5 112.8" stroke="#1a1a1a" stroke-width="0.65" />
<path d="M638.3 420.9L669.7 420.7" stroke="#1a1a1a" stroke-width="0.65" />
<text transform="translate(685.7 91.3) rotate(-90)" x="0" y="0" font-size="8.8" textLength="16.8" lengthAdjust="spacing" fill="#1a1a1a" stroke="#1a1a1a" stroke-width="0.2" font-family="'Liberation Sans', sans-serif">260</text>
<text transform="translate(675 272) rotate(-90)" x="0" y="0" text-anchor="middle" font-size="9.8" textLength="25" lengthAdjust="spacing" fill="#1a1a1a" stroke="#1a1a1a" stroke-width="0.2" font-family="'Liberation Sans', sans-serif">2337</text>
<text transform="translate(661.3 351) rotate(-90)" x="0" y="0" text-anchor="middle" font-size="9.8" textLength="25" lengthAdjust="spacing" fill="#1a1a1a" stroke="#1a1a1a" stroke-width="0.2" font-family="'Liberation Sans', sans-serif">1470</text>
<text transform="translate(690.5 332.5) rotate(-90)" x="0" y="0" text-anchor="middle" font-size="9.8" textLength="25" lengthAdjust="spacing" fill="#1a1a1a" stroke="#1a1a1a" stroke-width="0.2" font-family="'Liberation Sans', sans-serif">2186</text>
<text transform="translate(705.5 307) rotate(-90)" x="0" y="0" text-anchor="middle" font-size="9.8" textLength="25" lengthAdjust="spacing" fill="#1a1a1a" stroke="#1a1a1a" stroke-width="0.2" font-family="'Liberation Sans', sans-serif">2458</text>
<text transform="translate(669.7 463) rotate(-90)" x="0" y="0" text-anchor="middle" font-size="9.8" textLength="18.7" lengthAdjust="spacing" fill="#1a1a1a" stroke="#1a1a1a" stroke-width="0.2" font-family="'Liberation Sans', sans-serif">448</text>
<path d="M686.3 64.2L686.3 112.5" stroke="#1a1a1a" stroke-width="0.75" />
<path d="M686.3 64.2L687.4 70.2L685.2 70.2Z" fill="#b0b0b0" stroke="#1a1a1a" stroke-width="0.65" stroke-linejoin="round"/>
<path d="M686.3 112.5L685.2 106.5L687.4 106.5Z" fill="#b0b0b0" stroke="#1a1a1a" stroke-width="0.65" stroke-linejoin="round"/>
<path d="M667.5 66L671.5 60L740 60" stroke="#222" stroke-width="0.9" fill="none" />
<text x="672" y="58.3" font-size="9.2" fill="#1a1a1a" font-family="'Liberation Serif', serif" stroke="#1a1a1a" stroke-width="0.2">8-</text>
<text x="690.3" y="58.3" font-size="9.2" fill="#1a1a1a" font-family="'Liberation Serif', serif" stroke="#1a1a1a" stroke-width="0.2">18</text>
<text x="726" y="58.3" font-size="9.2" fill="#1a1a1a" font-family="'Liberation Serif', serif" stroke="#1a1a1a" stroke-width="0.2">225</text>
<ellipse cx="685" cy="55.3" rx="2.1" ry="1.7" stroke="#1a1a1a" stroke-width="0.8" fill="none"/>
<path d="M685 52.2L685 58.4" stroke="#1a1a1a" stroke-width="0.95" />
<ellipse cx="721.5" cy="55.3" rx="2.1" ry="1.7" stroke="#1a1a1a" stroke-width="0.8" fill="none"/>
<path d="M721.5 52.2L721.5 58.4" stroke="#1a1a1a" stroke-width="0.95" />
<text x="698.3" y="58" font-size="8.6" letter-spacing="1" fill="#1a1a1a" font-family="'Liberation Serif', 'Noto Serif CJK SC', serif">均布</text>
<rect x="679.2" y="92" width="6.4" height="6.4" stroke="#111" stroke-width="1.0" fill="none"/>
<path d="M679.2 92L685.6 98.4" stroke="#111" stroke-width="1.0" />
<path d="M685.6 92L679.2 98.4" stroke="#111" stroke-width="1.0" />
<path d="M647.5 135L667.5 135" stroke="#1a1a1a" stroke-width="0.75" />
<path d="M667.5 113.5L667.5 135.5" stroke="#1a1a1a" stroke-width="0.65" />
<text x="648.6" y="134.3" font-size="9.8" fill="#1a1a1a" font-family="'Liberation Serif', serif" stroke="#1a1a1a" stroke-width="0.3">112.</text>
<path d="M263.3 400.6L585 398" stroke="#1a1a1a" stroke-width="0.85" />
<path d="M585 398L579 399.1L579 396.9Z" fill="#b0b0b0" stroke="#1a1a1a" stroke-width="0.65" stroke-linejoin="round"/>
<text x="397.2" y="399.9" font-size="9.1" textLength="23.1" lengthAdjust="spacing" fill="#1a1a1a" stroke="#1a1a1a" stroke-width="0.2" font-family="'Liberation Sans', sans-serif">1910</text>
<path d="M186.2 504.5L366.7 503.2" stroke="#1a1a1a" stroke-width="0.75" />
<path d="M186.2 424.5L187 504.5" stroke="#1a1a1a" stroke-width="0.75" />
<path d="M186.2 424.6L187.3 430.6L185.1 430.6Z" fill="#b0b0b0" stroke="#1a1a1a" stroke-width="0.65" stroke-linejoin="round"/>
<path d="M187 504.5L185.9 498.5L188.1 498.5Z" fill="#b0b0b0" stroke="#1a1a1a" stroke-width="0.65" stroke-linejoin="round"/>
<text transform="translate(186.5 467) rotate(-90)" x="0" y="0" text-anchor="middle" font-size="9.8" textLength="18.7" lengthAdjust="spacing" fill="#1a1a1a" stroke="#1a1a1a" stroke-width="0.2" font-family="'Liberation Sans', sans-serif">456</text>
<path d="M203.3 468.3L252.5 468" stroke="#1a1a1a" stroke-width="0.65" />
<path d="M203.3 468.3L203.7 504.4" stroke="#1a1a1a" stroke-width="0.75" />
<path d="M203.3 468.3L204.4 474.3L202.2 474.3Z" fill="#b0b0b0" stroke="#1a1a1a" stroke-width="0.65" stroke-linejoin="round"/>
<path d="M203.7 504.4L202.6 498.4L204.8 498.4Z" fill="#b0b0b0" stroke="#1a1a1a" stroke-width="0.65" stroke-linejoin="round"/>
<text transform="translate(202.3 489) rotate(-90)" x="0" y="0" text-anchor="middle" font-size="9.8" textLength="18.7" lengthAdjust="spacing" fill="#1a1a1a" stroke="#1a1a1a" stroke-width="0.2" font-family="'Liberation Sans', sans-serif">200</text>
<path d="M211.3 482.5L252.5 482.3" stroke="#1a1a1a" stroke-width="0.75" />
<path d="M211.3 482.5L217.3 481.4L217.3 483.6Z" fill="#b0b0b0" stroke="#1a1a1a" stroke-width="0.65" stroke-linejoin="round"/>
<path d="M252.5 482.3L246.5 483.4L246.5 481.2Z" fill="#b0b0b0" stroke="#1a1a1a" stroke-width="0.65" stroke-linejoin="round"/>
<rect x="221.5" y="474.5" width="6.8" height="8" stroke="#111" stroke-width="1.2"/>
<path d="M221.5 474.5L228.3 482.5" stroke="#111" stroke-width="1.0" />
<path d="M228.3 474.5L221.5 482.5" stroke="#111" stroke-width="1.0" />
<text x="229.3" y="481.6" font-size="9.1" textLength="17.4" lengthAdjust="spacing" fill="#1a1a1a" stroke="#1a1a1a" stroke-width="0.2" font-family="'Liberation Sans', sans-serif">219</text>
<path d="M313.5 475.3L354.3 475.1" stroke="#1a1a1a" stroke-width="0.75" />
<path d="M313.5 475.3L319.5 474.2L319.5 476.4Z" fill="#b0b0b0" stroke="#1a1a1a" stroke-width="0.65" stroke-linejoin="round"/>
<path d="M354.3 475.1L348.3 476.2L348.3 474Z" fill="#b0b0b0" stroke="#1a1a1a" stroke-width="0.65" stroke-linejoin="round"/>
<path d="M314.7 463.9L366.7 463.7" stroke="#1a1a1a" stroke-width="0.65" />
<rect x="323.5" y="466.8" width="6.8" height="8" stroke="#111" stroke-width="1.2"/>
<path d="M323.5 466.8L330.3 474.8" stroke="#111" stroke-width="1.0" />
<path d="M330.3 466.8L323.5 474.8" stroke="#111" stroke-width="1.0" />
<text x="331.5" y="474.2" font-size="9.1" textLength="17.4" lengthAdjust="spacing" fill="#1a1a1a" stroke="#1a1a1a" stroke-width="0.2" font-family="'Liberation Sans', sans-serif">219</text>
<path d="M366.3 463.8L366.7 503.3" stroke="#1a1a1a" stroke-width="0.75" />
<path d="M366.3 463.8L367.4 469.8L365.2 469.8Z" fill="#b0b0b0" stroke="#1a1a1a" stroke-width="0.65" stroke-linejoin="round"/>
<path d="M366.7 503.3L365.6 497.3L367.8 497.3Z" fill="#b0b0b0" stroke="#1a1a1a" stroke-width="0.65" stroke-linejoin="round"/>
<text transform="translate(365.3 484) rotate(-90)" x="0" y="0" text-anchor="middle" font-size="9.8" textLength="18.7" lengthAdjust="spacing" fill="#1a1a1a" stroke="#1a1a1a" stroke-width="0.2" font-family="'Liberation Sans', sans-serif">222</text>
<path d="M180 542L653 536.7" stroke="#1a1a1a" stroke-width="0.75" />
<path d="M180 542L186 540.9L186 543.1Z" fill="#b0b0b0" stroke="#1a1a1a" stroke-width="0.65" stroke-linejoin="round"/>
<path d="M653 536.7L647 537.8L647 535.6Z" fill="#b0b0b0" stroke="#1a1a1a" stroke-width="0.65" stroke-linejoin="round"/>
<text x="405.3" y="538.8" font-size="9.1" textLength="23.1" lengthAdjust="spacing" fill="#1a1a1a" stroke="#1a1a1a" stroke-width="0.2" font-family="'Liberation Sans', sans-serif">2593</text>
<path d="M203.5 529.2L652.5 524.2" stroke="#1a1a1a" stroke-width="0.75" />
<path d="M205 529.2L211 528.1L211 530.3Z" fill="#b0b0b0" stroke="#1a1a1a" stroke-width="0.65" stroke-linejoin="round"/>
<path d="M652.5 524.2L646.5 525.3L646.5 523.1Z" fill="#b0b0b0" stroke="#1a1a1a" stroke-width="0.65" stroke-linejoin="round"/>
<text x="420.8" y="526.2" font-size="9.1" textLength="23.1" lengthAdjust="spacing" fill="#1a1a1a" stroke="#1a1a1a" stroke-width="0.2" font-family="'Liberation Sans', sans-serif">2390</text>
<path d="M214.7 515.8L651.5 511.7" stroke="#1a1a1a" stroke-width="0.75" />
<path d="M214.7 515.8L220.7 514.7L220.7 516.9Z" fill="#b0b0b0" stroke="#1a1a1a" stroke-width="0.65" stroke-linejoin="round"/>
<path d="M651.5 511.7L645.5 512.8L645.5 510.6Z" fill="#b0b0b0" stroke="#1a1a1a" stroke-width="0.65" stroke-linejoin="round"/>
<text x="450" y="512.5" font-size="9.1" textLength="23.1" lengthAdjust="spacing" fill="#1a1a1a" stroke="#1a1a1a" stroke-width="0.2" font-family="'Liberation Sans', sans-serif">2052</text>
<path d="M651 500L651.4 538.5" stroke="#1a1a1a" stroke-width="0.65" />
<path d="M652.6 500L653 538.5" stroke="#1a1a1a" stroke-width="0.65" />
<path d="M180 529.5L203.5 529.2" stroke="#1a1a1a" stroke-width="0.75" />
<path d="M180 529.5L186 528.4L186 530.6Z" fill="#b0b0b0" stroke="#1a1a1a" stroke-width="0.65" stroke-linejoin="round"/>
<path d="M203.5 529.2L197.5 530.3L197.5 528.1Z" fill="#b0b0b0" stroke="#1a1a1a" stroke-width="0.65" stroke-linejoin="round"/>
<text x="187.5" y="528" font-size="9.1" textLength="17.4" lengthAdjust="spacing" fill="#1a1a1a" stroke="#1a1a1a" stroke-width="0.2" font-family="'Liberation Sans', sans-serif">194</text>
<path d="M214.7 482.5L215.2 529.5" stroke="#1a1a1a" stroke-width="0.65" />
<path d="M232 413L232.6 470" stroke="#333" stroke-width="0.7" stroke-dasharray="16 2 2 2"/>
<path d="M232.6 483L233 524.2" stroke="#1a1a1a" stroke-width="0.75" />
<path d="M214.7 515.8L276.7 515.2" stroke="#1a1a1a" stroke-width="0.75" />
<path d="M276.7 515.2L270.7 516.3L270.7 514.1Z" fill="#b0b0b0" stroke="#1a1a1a" stroke-width="0.65" stroke-linejoin="round"/>
<text x="253.5" y="514" font-size="9.1" textLength="17.4" lengthAdjust="spacing" fill="#1a1a1a" stroke="#1a1a1a" stroke-width="0.2" font-family="'Liberation Sans', sans-serif">338</text>
<path d="M276.7 503.5L276.8 516" stroke="#1a1a1a" stroke-width="0.65" />
<path d="M232 524.2L334.2 523.4" stroke="#1a1a1a" stroke-width="0.75" />
<path d="M232 524.2L238 523.1L238 525.3Z" fill="#b0b0b0" stroke="#1a1a1a" stroke-width="0.65" stroke-linejoin="round"/>
<path d="M334.2 523.4L328.2 524.5L328.2 522.3Z" fill="#b0b0b0" stroke="#1a1a1a" stroke-width="0.65" stroke-linejoin="round"/>
<text x="273.5" y="523.2" font-size="9.1" textLength="17.4" lengthAdjust="spacing" fill="#1a1a1a" stroke="#1a1a1a" stroke-width="0.2" font-family="'Liberation Sans', sans-serif">557</text>
<path d="M333.8 421L334.2 463" stroke="#333" stroke-width="0.7" stroke-dasharray="16 2 2 2"/>
<path d="M334.3 476L334.8 523.6" stroke="#1a1a1a" stroke-width="0.75" />
<path d="M547 113.8L587.5 137L587.5 154.3" stroke="#111" stroke-width="1.6" fill="none" />
<path d="M547 115L547 122.5L580 136.7" stroke="#1a1a1a" stroke-width="0.75" fill="none" />
<path d="M549 116L575.5 154.5L587.5 154.5" stroke="#1a1a1a" stroke-width="0.75" fill="none" />
<path d="M553 115.5L600 143.5" stroke="#1a1a1a" stroke-width="0.75" />
<path d="M539.6 124.6L580 137" stroke="#1a1a1a" stroke-width="0.75" />
<path d="M582.6 137L582.8 162" stroke="#666" stroke-width="0.75" />
<path d="M583.6 137L583.8 162" stroke="#666" stroke-width="0.75" />
<path d="M587.5 135.7L600 135.7" stroke="#444" stroke-width="0.85" />
<path d="M588 144.6L600 144.6" stroke="#555" stroke-width="1.1" />
<path d="M570 147L576 154.3" stroke="#1a1a1a" stroke-width="0.75" fill="none" />
<path d="M602.5 144.5L602.5 126L607.5 124" stroke="#555" stroke-width="0.75" fill="none" />
<path d="M603.3 126L603.3 144.5" stroke="#888" stroke-width="0.75" />
<path d="M607.5 124L618 147.5" stroke="#111" stroke-width="1.6" />
<path d="M618 147.5L570 182.7" stroke="#111" stroke-width="1.6" />
<path d="M603 145.6L583 162.2" stroke="#1a1a1a" stroke-width="0.85" />
<path d="M598.5 147.3L588 154.3" stroke="#1a1a1a" stroke-width="0.85" />
<path d="M600.3 145L618 147.5" stroke="#1a1a1a" stroke-width="0.75" />
<path d="M618 149.5L625 149.5" stroke="#555" stroke-width="0.75" />
<path d="M618 147.5L621 150L637 183L642.3 193.3L637.6 217.4" stroke="#1a1a1a" stroke-width="0.8" fill="none" />
<path d="M564 174.5L578.5 164.5L583 170.5L569 181Z" stroke="#1a1a1a" stroke-width="0.7" fill="none" />
<path d="M572 169.5L575.5 175.5" stroke="#1a1a1a" stroke-width="0.75" />
<path d="M533.5 193Q552 184 570.2 183" stroke="#1a1a1a" stroke-width="0.6" fill="none"/>
<path d="M570 182.7L573 181.5L576 187.7" stroke="#1a1a1a" stroke-width="0.85" fill="none" />
<path d="M589 199.5L615.5 191L614 196.5L619.5 189.5L618 194.5L626.5 190" stroke="#1a1a1a" stroke-width="1.0" fill="none" />
<path d="M594 202L616.7 207.5L615.5 211L619.3 206.5L618.3 210.2L625.5 211.8" stroke="#1a1a1a" stroke-width="1.0" fill="none" />
<path d="M626.5 193.8L636.5 189.2" stroke="#111" stroke-width="1.6" />
<path d="M625 190L634 185.8" stroke="#1a1a1a" stroke-width="0.75" />
<path d="M631.5 180L637 190.5" stroke="#111" stroke-width="1.45" />
<path d="M624.5 212.3L636 215.6" stroke="#111" stroke-width="1.8" />
<path d="M636.2 204.5L637.6 218.2" stroke="#111" stroke-width="1.45" />
<path d="M629 210L644.5 212" stroke="#1a1a1a" stroke-width="0.75" />
<circle cx="615.5" cy="220" r="2.5" stroke="#111" stroke-width="1.45" fill="none"/>
<path d="M618.5 218.5L622.5 216.8" stroke="#111" stroke-width="0.9" />
<path d="M613 215.5L614 216.5" stroke="#111" stroke-width="0.7" />
<path d="M225.5 392L216.5 405L216.5 423" stroke="#1a1a1a" stroke-width="0.9" fill="none" />
<path d="M250 393L259 404L259 423" stroke="#1a1a1a" stroke-width="0.9" fill="none" />
<path d="M216.5 406.6L259 406.6" stroke="#1a1a1a" stroke-width="0.85" />
<rect x="216.5" y="408.2" width="42.5" height="1.8" stroke="none" stroke-width="0" fill="#8a8a8a"/>
<path d="M216.5 410L259 410" stroke="#1a1a1a" stroke-width="0.85" />
<path d="M229 407.8L229 401.6L247 401.6L247 407.8" stroke="#111" stroke-width="1.6" fill="none" />
<path d="M227 397L227 401.6" stroke="#1a1a1a" stroke-width="0.75" />
<path d="M248.5 397L248.5 401.6" stroke="#1a1a1a" stroke-width="0.75" />
<path d="M227 401.6L248.5 401.6" stroke="#1a1a1a" stroke-width="0.75" />
<rect x="231.5" y="412.8" width="12.5" height="3.7" stroke="#1a1a1a" stroke-width="0.85" fill="none"/>
<rect x="216.5" y="416.5" width="42.5" height="3" stroke="none" stroke-width="0" fill="#555"/>
<path d="M216.5 421.3L259 421.3" stroke="#1a1a1a" stroke-width="0.85" />
<circle cx="237.5" cy="389" r="11.6" stroke="#222" stroke-width="0.85" fill="#fff"/>
<circle cx="237.5" cy="389" r="9.3" stroke="#111" stroke-width="1.6" fill="#fff"/>
<path d="M247 385.6L256.5 385.6Q259 385.6 259 387.6" stroke="#1a1a1a" stroke-width="0.7" fill="none"/>
<path d="M246.7 386.4L249 388.6L256.5 388.6" stroke="#111" stroke-width="1.0" fill="none"/>
<path d="M246.7 390.8L249 389.4" stroke="#111" stroke-width="0.8" fill="none"/>
<path d="M247.5 392.2L257.5 392.2Q259.5 392.2 259.5 390L259 387.6" stroke="#1a1a1a" stroke-width="0.7" fill="none"/>
<path d="M237.5 374L237.5 410" stroke="#222" stroke-width="0.7" />
<path d="M231 388.7L244 388.7" stroke="#111" stroke-width="1.0" />
<path d="M232.5 388.7L233.5 391" stroke="#111" stroke-width="0.6" />
<path d="M241.5 388.7L242.5 391" stroke="#111" stroke-width="0.6" />
<path d="M234.5 381.5L240.5 397" stroke="#111" stroke-width="0.6" />
<path d="M239 382L236 395" stroke="#111" stroke-width="0.5" />
<path d="M238.5 388.5L244.5 385" stroke="#111" stroke-width="0.5" />
<path d="M572.5 213L563.5 225.4L563.5 240.5" stroke="#1a1a1a" stroke-width="0.9" fill="none" />
<path d="M597 214L606 224.5L606 240.5" stroke="#1a1a1a" stroke-width="0.9" fill="none" />
<path d="M563.5 226.7L606 226.7" stroke="#1a1a1a" stroke-width="0.85" />
<rect x="563.5" y="228.1" width="42.5" height="1.5" stroke="none" stroke-width="0" fill="#8a8a8a"/>
<path d="M563.5 229.6L606 229.6" stroke="#1a1a1a" stroke-width="0.85" />
<path d="M576 227.7L576 222.5L594 222.5L594 227.7" stroke="#111" stroke-width="1.6" fill="none" />
<path d="M574 218L574 222.5" stroke="#1a1a1a" stroke-width="0.75" />
<path d="M595.5 218L595.5 222.5" stroke="#1a1a1a" stroke-width="0.75" />
<path d="M574 222.5L595.5 222.5" stroke="#1a1a1a" stroke-width="0.75" />
<rect x="578.5" y="231.9" width="12.5" height="3.1" stroke="#1a1a1a" stroke-width="0.85" fill="none"/>
<rect x="563.5" y="235" width="42.5" height="2.5" stroke="none" stroke-width="0" fill="#555"/>
<path d="M563.5 239.1L606 239.1" stroke="#1a1a1a" stroke-width="0.85" />
<circle cx="584.5" cy="210" r="11.6" stroke="#222" stroke-width="0.85" fill="#fff"/>
<circle cx="584.5" cy="210" r="9.3" stroke="#111" stroke-width="1.6" fill="#fff"/>
<path d="M594 206.6L603.5 206.6Q606 206.6 606 208.6" stroke="#1a1a1a" stroke-width="0.7" fill="none"/>
<path d="M593.7 207.4L596 209.6L603.5 209.6" stroke="#111" stroke-width="1.0" fill="none"/>
<path d="M593.7 211.8L596 210.4" stroke="#111" stroke-width="0.8" fill="none"/>
<path d="M594.5 213.2L604.5 213.2Q606.5 213.2 606.5 211L606 208.6" stroke="#1a1a1a" stroke-width="0.7" fill="none"/>
<path d="M584.5 195L584.5 231" stroke="#222" stroke-width="0.7" />
<path d="M578 209.7L591 209.7" stroke="#111" stroke-width="1.0" />
<path d="M579.5 209.7L580.5 212" stroke="#111" stroke-width="0.6" />
<path d="M588.5 209.7L589.5 212" stroke="#111" stroke-width="0.6" />
<path d="M581.5 202.5L587.5 218" stroke="#111" stroke-width="0.6" />
<path d="M586 203L583 216" stroke="#111" stroke-width="0.5" />
<path d="M585.5 209.5L591.5 206" stroke="#111" stroke-width="0.5" />
</svg></body></html>
